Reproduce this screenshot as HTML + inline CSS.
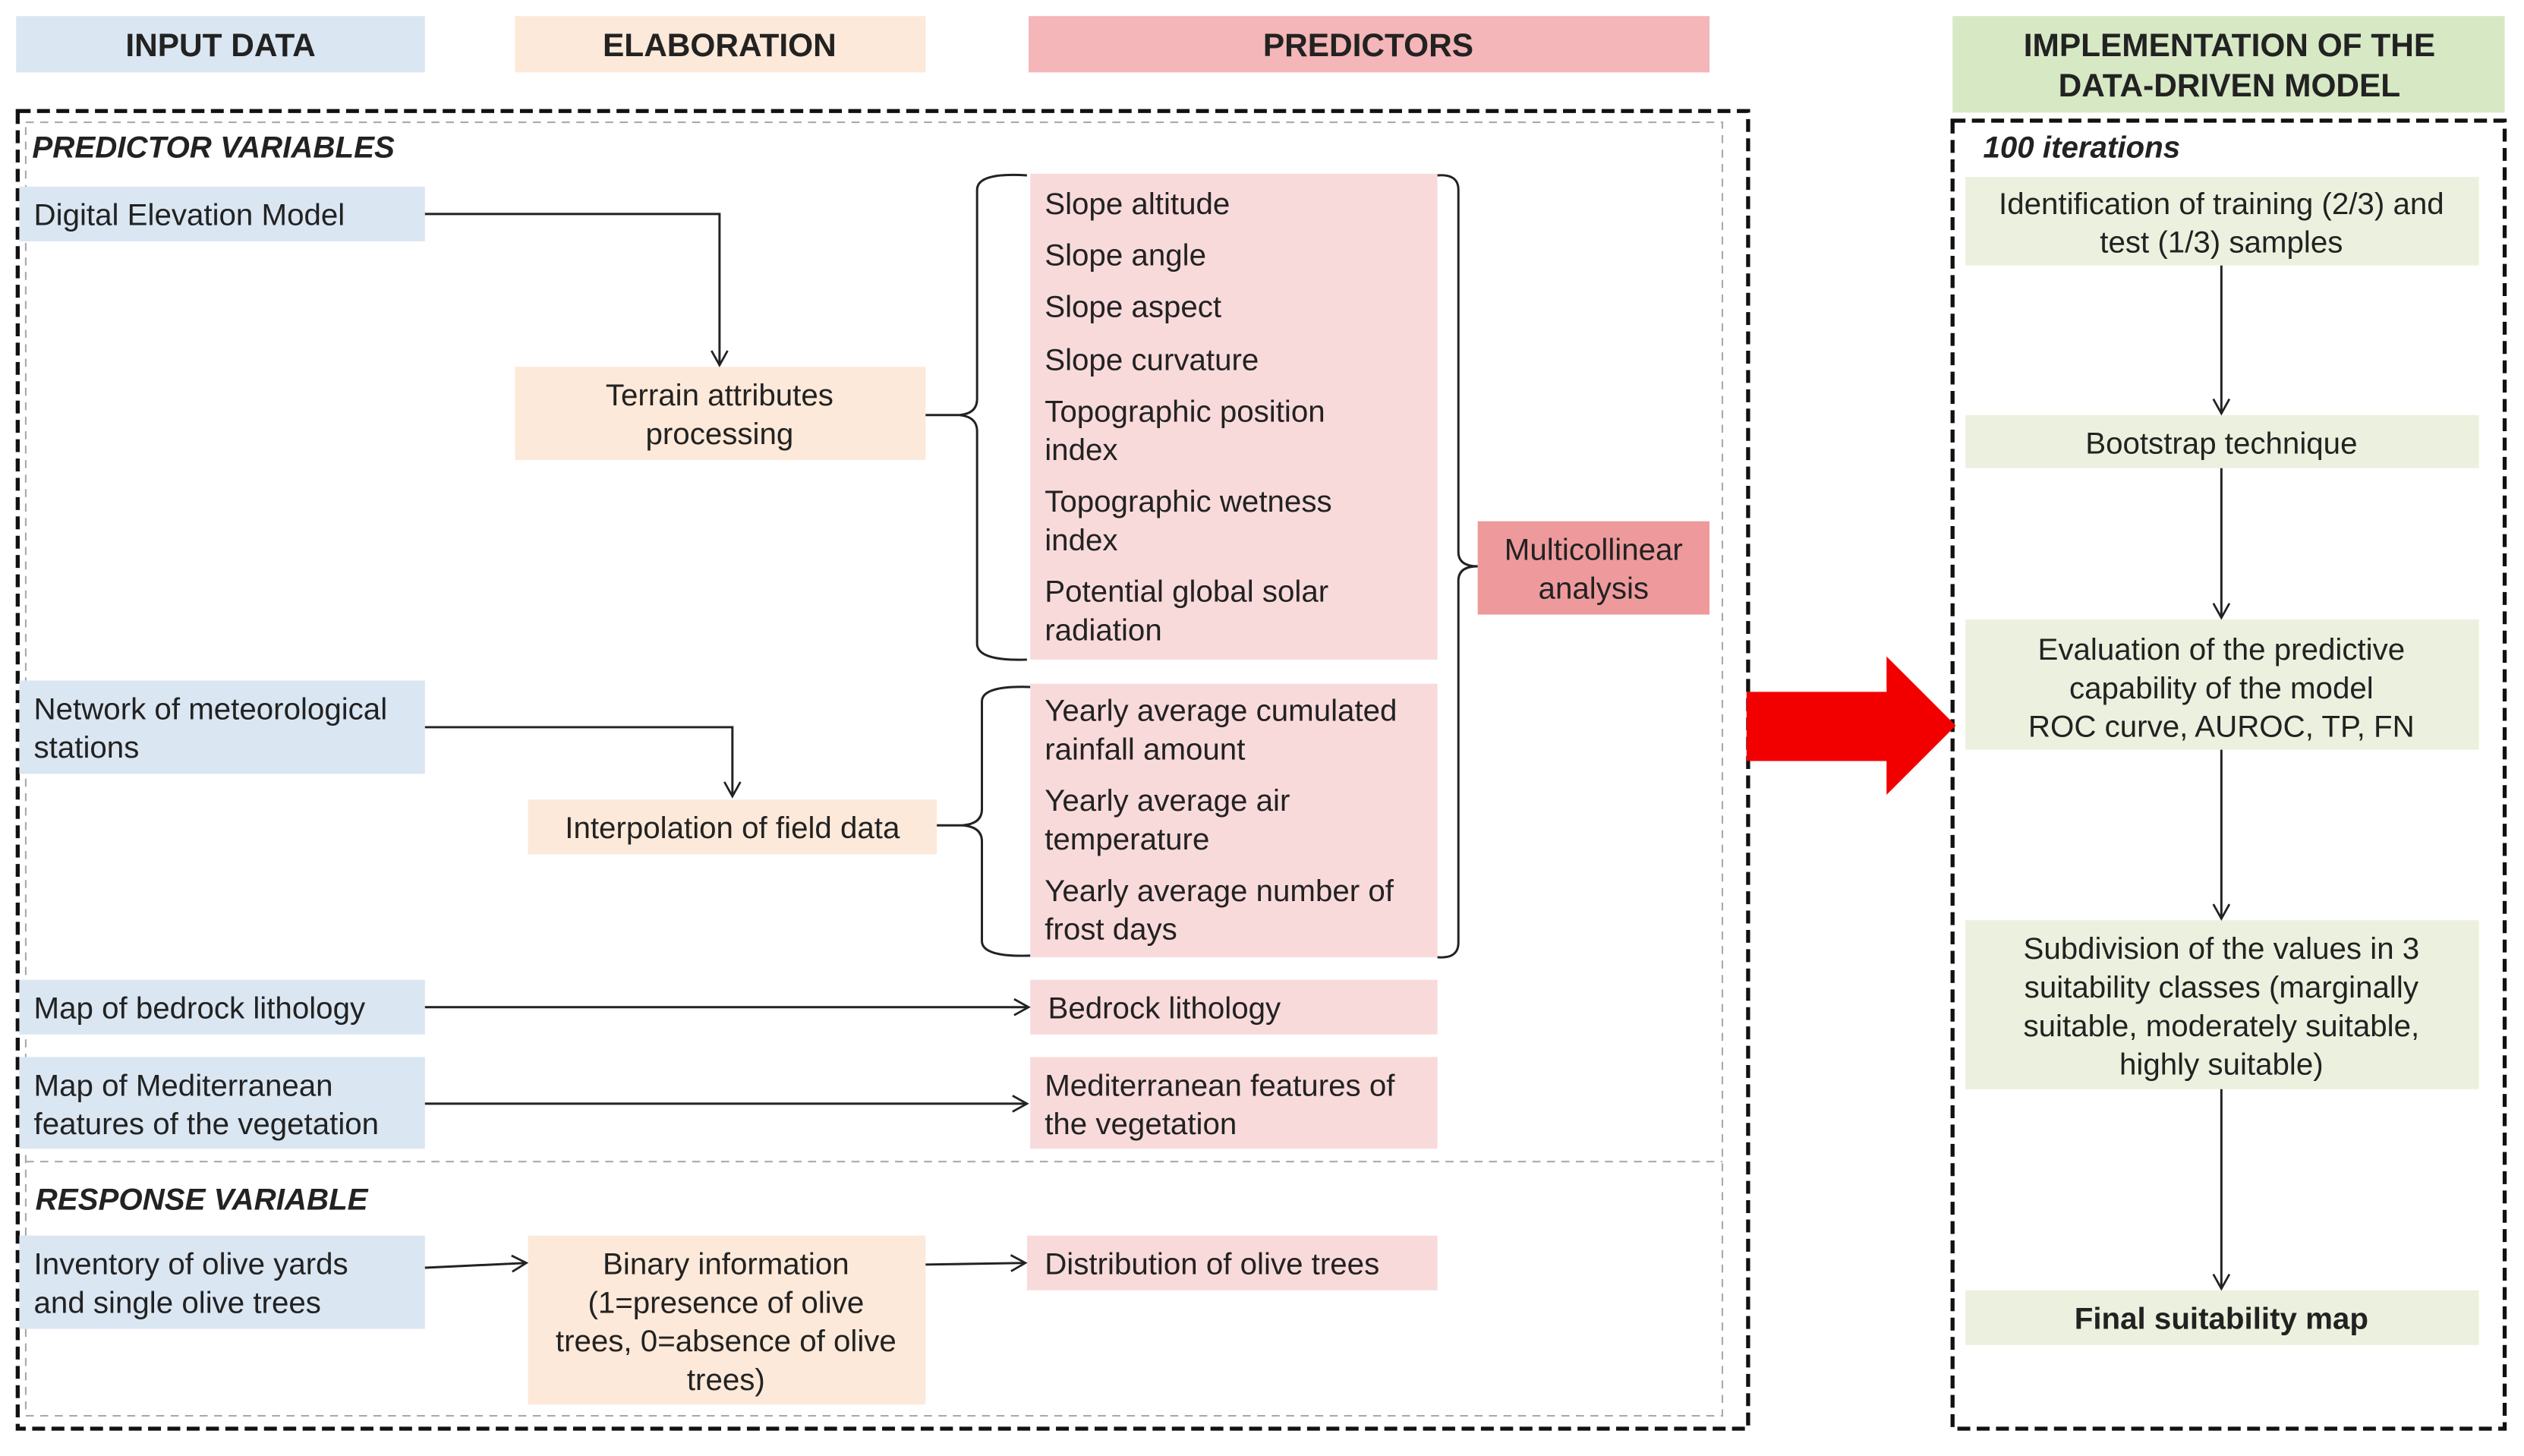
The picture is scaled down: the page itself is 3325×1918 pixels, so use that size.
<!DOCTYPE html>
<html><head><meta charset="utf-8"><style>html,body{margin:0;padding:0;background:#fff}svg{display:block}text{font-family:"Liberation Sans",sans-serif;fill:#222}</style></head><body>
<svg width="3325" height="1918" viewBox="0 0 1568 905" preserveAspectRatio="none" xmlns="http://www.w3.org/2000/svg">
<defs><marker id="a" markerWidth="12" markerHeight="12" refX="10" refY="6" orient="auto" markerUnits="userSpaceOnUse"><path d="M1,1 L10,6 L1,11" fill="none" stroke="#222" stroke-width="1.3"/></marker></defs>
<rect width="1568" height="905" fill="#fff"/>
<!-- headers -->
<rect x="10" y="10" width="254" height="35" fill="#dae6f2"/><text x="137" y="35" font-size="20" font-weight="bold" text-anchor="middle">INPUT DATA</text>
<rect x="320" y="10" width="255" height="35" fill="#fde9d9"/><text x="447" y="35" font-size="20" font-weight="bold" text-anchor="middle">ELABORATION</text>
<rect x="639" y="10" width="423" height="35" fill="#f4b6b8"/><text x="850" y="35" font-size="20" font-weight="bold" text-anchor="middle">PREDICTORS</text>
<rect x="1213" y="10" width="343" height="60" fill="#d7e8c5"/><text x="1385" y="35" font-size="20" font-weight="bold" text-anchor="middle">IMPLEMENTATION OF THE</text><text x="1385" y="60" font-size="20" font-weight="bold" text-anchor="middle">DATA-DRIVEN MODEL</text>
<!-- dashed frames -->
<rect x="11" y="69" width="1075" height="819" fill="none" stroke="#111" stroke-width="2.5" stroke-dasharray="8,4"/>
<rect x="16" y="76" width="1054" height="804" fill="none" stroke="#aaa" stroke-width="1" stroke-dasharray="5,4"/>
<line x1="16" y1="722" x2="1070" y2="722" stroke="#aaa" stroke-width="1" stroke-dasharray="5,4"/>
<rect x="1213" y="75" width="343" height="813" fill="none" stroke="#111" stroke-width="2.5" stroke-dasharray="8,4"/>
<text x="20" y="98" font-size="19" font-weight="bold" font-style="italic">PREDICTOR VARIABLES</text>
<text x="22" y="752" font-size="19" font-weight="bold" font-style="italic">RESPONSE VARIABLE</text>
<text x="1232" y="98" font-size="19" font-weight="bold" font-style="italic">100 iterations</text>
<g font-size="19">
<!-- input boxes -->
<rect x="12" y="116" width="252" height="34" fill="#dae6f2"/><text x="21" y="140">Digital Elevation Model</text>
<rect x="12" y="423" width="252" height="58" fill="#dae6f2"/><text x="21" y="447">Network of meteorological</text><text x="21" y="471">stations</text>
<rect x="12" y="609" width="252" height="34" fill="#dae6f2"/><text x="21" y="633">Map of bedrock lithology</text>
<rect x="12" y="657" width="252" height="57" fill="#dae6f2"/><text x="21" y="681">Map of Mediterranean</text><text x="21" y="705">features of the vegetation</text>
<rect x="12" y="768" width="252" height="58" fill="#dae6f2"/><text x="21" y="792">Inventory of olive yards</text><text x="21" y="816">and single olive trees</text>
<!-- elaboration -->
<rect x="320" y="228" width="255" height="58" fill="#fde9d9"/><text x="447" y="252" text-anchor="middle">Terrain attributes</text><text x="447" y="276" text-anchor="middle">processing</text>
<rect x="328" y="497" width="254" height="34" fill="#fde9d9"/><text x="455" y="521" text-anchor="middle">Interpolation of field data</text>
<rect x="328" y="768" width="247" height="105" fill="#fde9d9"/><text x="451" y="792" text-anchor="middle">Binary information</text><text x="451" y="816" text-anchor="middle">(1=presence of olive</text><text x="451" y="840" text-anchor="middle">trees, 0=absence of olive</text><text x="451" y="864" text-anchor="middle">trees)</text>
<!-- predictors -->
<rect x="640" y="108" width="253" height="302" fill="#f9dadb"/>
<text x="649" y="133">Slope altitude</text><text x="649" y="165">Slope angle</text><text x="649" y="197">Slope aspect</text><text x="649" y="230">Slope curvature</text><text x="649" y="262">Topographic position</text><text x="649" y="286">index</text><text x="649" y="318">Topographic wetness</text><text x="649" y="342">index</text><text x="649" y="374">Potential global solar</text><text x="649" y="398">radiation</text>
<rect x="640" y="425" width="253" height="170" fill="#f9dadb"/>
<text x="649" y="448">Yearly average cumulated</text><text x="649" y="472">rainfall amount</text><text x="649" y="504">Yearly average air</text><text x="649" y="528">temperature</text><text x="649" y="560">Yearly average number of</text><text x="649" y="584">frost days</text>
<rect x="640" y="609" width="253" height="34" fill="#f9dadb"/><text x="651" y="633">Bedrock lithology</text>
<rect x="640" y="657" width="253" height="57" fill="#f9dadb"/><text x="649" y="681">Mediterranean features of</text><text x="649" y="705">the vegetation</text>
<rect x="638" y="768" width="255" height="34" fill="#f9dadb"/><text x="649" y="792">Distribution of olive trees</text>
<rect x="918" y="324" width="144" height="58" fill="#ee9a9c"/><text x="990" y="348" text-anchor="middle">Multicollinear</text><text x="990" y="372" text-anchor="middle">analysis</text>
<!-- right column -->
<rect x="1221" y="110" width="319" height="55" fill="#ebf1de"/><text x="1380" y="133" text-anchor="middle">Identification of training (2/3) and</text><text x="1380" y="157" text-anchor="middle">test (1/3) samples</text>
<rect x="1221" y="258" width="319" height="33" fill="#ebf1de"/><text x="1380" y="282" text-anchor="middle">Bootstrap technique</text>
<rect x="1221" y="385" width="319" height="81" fill="#ebf1de"/><text x="1380" y="410" text-anchor="middle">Evaluation of the predictive</text><text x="1380" y="434" text-anchor="middle">capability of the model</text><text x="1380" y="458" text-anchor="middle">ROC curve, AUROC, TP, FN</text>
<rect x="1221" y="572" width="319" height="105" fill="#ebf1de"/><text x="1380" y="596" text-anchor="middle">Subdivision of the values in 3</text><text x="1380" y="620" text-anchor="middle">suitability classes (marginally</text><text x="1380" y="644" text-anchor="middle">suitable, moderately suitable,</text><text x="1380" y="668" text-anchor="middle">highly suitable)</text>
<rect x="1221" y="802" width="319" height="34" fill="#ebf1de"/><text x="1380" y="826" text-anchor="middle" font-weight="bold">Final suitability map</text>
</g>
<!-- connectors -->
<g fill="none" stroke="#222" stroke-width="1.4">
<path d="M264,133 H447 V227" marker-end="url(#a)"/>
<path d="M264,452 H455 V495" marker-end="url(#a)"/>
<path d="M264,626 H639" marker-end="url(#a)"/>
<path d="M264,686 H638" marker-end="url(#a)"/>
<path d="M264,788 L327,785" marker-end="url(#a)"/>
<path d="M575,786 L637,785" marker-end="url(#a)"/>
<path d="M1380,165 V257" marker-end="url(#a)"/>
<path d="M1380,291 V384" marker-end="url(#a)"/>
<path d="M1380,466 V571" marker-end="url(#a)"/>
<path d="M1380,677 V801" marker-end="url(#a)"/>
<!-- braces -->
<path d="M638,109 Q607,107 607,118 V248 Q607,257 596,258 H575 H596 Q607,259 607,268 V400 Q607,411 638,410"/>
<path d="M640,427 Q610,426 610,436 V503 Q610,512 598,513 H582 H598 Q610,514 610,523 V585 Q610,595 640,594"/>
<path d="M893,109 Q906,108 906,118 V343 Q906,352 918,352 Q906,352 906,361 V586 Q906,596 893,595"/>
</g>
<!-- red arrow -->
<polygon points="1085,430 1172,430 1172,408 1215,451 1172,494 1172,473 1085,473" fill="#f20000"/>
</svg>
</body></html>
